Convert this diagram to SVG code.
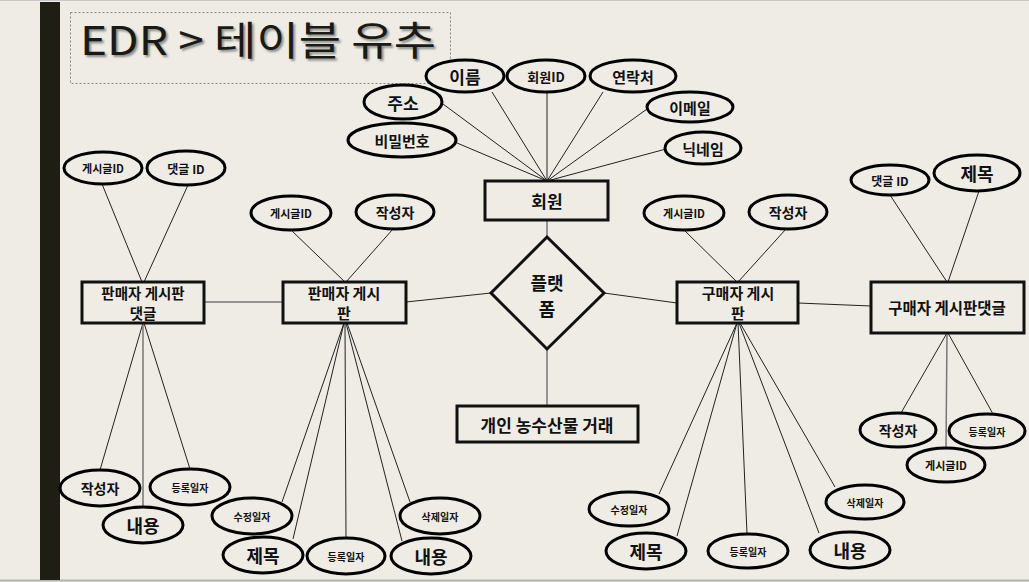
<svg xmlns="http://www.w3.org/2000/svg" width="1029" height="582" viewBox="0 0 1029 582">
<defs>
<style>
.e{fill:#eeece4;stroke:#000;stroke-width:3}
.b{fill:#eeece4;stroke:#111;stroke-width:3}
.c{stroke:#222;stroke-width:1;fill:none}
.g{stroke:#777;stroke-width:1.5;fill:none}
.t{font-family:"Noto Sans CJK KR","Noto Sans",sans-serif;font-weight:bold;text-anchor:middle;dominant-baseline:central;fill:#111}
</style>
<filter id="sh" x="-5%" y="-20%" width="110%" height="140%"><feGaussianBlur stdDeviation="1.2"/></filter>
</defs>
<rect x="0" y="0" width="1029" height="582" fill="#eeece4"/>
<line x1="0" y1="0.5" x2="1029" y2="0.5" stroke="#c8c8c8"/>
<line x1="0" y1="580.5" x2="1029" y2="580.5" stroke="#b4b4b4" stroke-width="2"/>
<rect x="40" y="2" width="20" height="578" fill="#1e1e14"/>
<g id="title">
<rect x="70.5" y="12.5" width="380" height="71" fill="none" stroke="#888" stroke-width="1" stroke-dasharray="2,2"/>
<text x="82" y="57" font-family="Noto Sans CJK KR,sans-serif" font-size="40" fill="#888" filter="url(#sh)" textLength="356" lengthAdjust="spacingAndGlyphs">EDR &gt; 테이블 유추</text>
<text x="80" y="55" font-family="Noto Sans CJK KR,sans-serif" font-size="40" fill="#1a1a14" textLength="356" lengthAdjust="spacingAndGlyphs">EDR &gt; 테이블 유추</text>
</g>
<g id="connectors">
<line class="c" x1="443" y1="104" x2="547" y2="181"/>
<line class="c" x1="457" y1="143" x2="547" y2="181"/>
<line class="c" x1="492" y1="92" x2="547" y2="181"/>
<line class="c" x1="547" y1="92" x2="547" y2="181"/>
<line class="c" x1="603" y1="92" x2="547" y2="181"/>
<line class="c" x1="647" y1="109" x2="547" y2="181"/>
<line class="c" x1="666" y1="149" x2="547" y2="181"/>
<line class="g" x1="547" y1="220" x2="547" y2="237"/>
<line class="g" x1="547" y1="349" x2="547" y2="406"/>
<line class="c" x1="102" y1="184" x2="142" y2="282"/>
<line class="c" x1="188" y1="185" x2="144" y2="282"/>
<line class="c" x1="143" y1="323" x2="100" y2="470"/>
<line class="g" x1="143" y1="323" x2="143" y2="507"/>
<line class="c" x1="144" y1="323" x2="190" y2="469"/>
<line class="c" x1="291" y1="230" x2="345" y2="282"/>
<line class="c" x1="393" y1="229" x2="346" y2="282"/>
<line class="c" x1="344" y1="323" x2="282" y2="502"/>
<line class="c" x1="344" y1="323" x2="293" y2="539"/>
<line class="c" x1="345" y1="323" x2="346" y2="538"/>
<line class="c" x1="346" y1="323" x2="402" y2="541"/>
<line class="c" x1="347" y1="323" x2="410" y2="502"/>
<line class="g" x1="204" y1="302" x2="283" y2="302"/>
<line class="c" x1="406" y1="302" x2="491" y2="293"/>
<line class="c" x1="604" y1="293" x2="677" y2="303"/>
<line class="c" x1="798" y1="303" x2="871" y2="306"/>
<line class="c" x1="684" y1="230" x2="737" y2="282"/>
<line class="c" x1="786" y1="229" x2="738" y2="282"/>
<line class="c" x1="890" y1="195" x2="947" y2="282"/>
<line class="c" x1="979" y1="191" x2="948" y2="282"/>
<line class="c" x1="737" y1="323" x2="659" y2="494"/>
<line class="c" x1="737" y1="323" x2="677" y2="536"/>
<line class="c" x1="738" y1="323" x2="747" y2="534"/>
<line class="c" x1="739" y1="323" x2="819" y2="533"/>
<line class="c" x1="740" y1="323" x2="835" y2="487"/>
<line class="c" x1="947" y1="333" x2="901" y2="413"/>
<line class="g" x1="947" y1="333" x2="946" y2="448"/>
<line class="c" x1="948" y1="333" x2="993" y2="414"/>
</g>
<g id="member"><rect class="b" x="485" y="181" width="123" height="39"/><text class="t" x="547" y="200" font-size="17">회원</text></g>
<g id="platform"><polygon class="b" points="547,237 604,293 547,349 491,293"/><text class="t" x="547" y="282" font-size="18">플랫</text><text class="t" x="547" y="308" font-size="18">폼</text></g>
<g id="trade"><rect class="b" x="457" y="406" width="181" height="36"/><text class="t" x="547" y="424" font-size="17">개인 농수산물 거래</text></g>
<g id="a-name"><ellipse class="e" cx="465" cy="76" rx="39" ry="16"/><text class="t" x="465" y="76" font-size="17">이름</text></g>
<g id="a-memberid"><ellipse class="e" cx="546" cy="76" rx="39" ry="16"/><text class="t" x="546" y="76" font-size="13">회원ID</text></g>
<g id="a-contact"><ellipse class="e" cx="633" cy="76" rx="43" ry="16"/><text class="t" x="633" y="76" font-size="15">연락처</text></g>
<g id="a-address"><ellipse class="e" cx="403" cy="102" rx="39" ry="17"/><text class="t" x="403" y="102" font-size="17">주소</text></g>
<g id="a-password"><ellipse class="e" cx="402" cy="140" rx="54" ry="17"/><text class="t" x="402" y="140" font-size="15">비밀번호</text></g>
<g id="a-email"><ellipse class="e" cx="690" cy="107" rx="43" ry="15"/><text class="t" x="690" y="107" font-size="15">이메일</text></g>
<g id="a-nick"><ellipse class="e" cx="703" cy="148" rx="38" ry="16"/><text class="t" x="703" y="148" font-size="15">닉네임</text></g>
<g id="seller-comment"><rect class="b" x="82" y="282" width="122" height="41"/><text class="t" x="143" y="292" font-size="14.5">판매자 게시판</text><text class="t" x="143" y="312" font-size="14.5">댓글</text></g>
<g id="sc-postid"><ellipse class="e" cx="103" cy="168" rx="39" ry="16"/><text class="t" x="103" y="168" font-size="11">게시글ID</text></g>
<g id="sc-commentid"><ellipse class="e" cx="186" cy="168" rx="39" ry="17"/><text class="t" x="186" y="168" font-size="12">댓글 ID</text></g>
<g id="sc-writer"><ellipse class="e" cx="100" cy="488" rx="40" ry="18"/><text class="t" x="100" y="488" font-size="14">작성자</text></g>
<g id="sc-content"><ellipse class="e" cx="143" cy="525" rx="40" ry="18"/><text class="t" x="143" y="525" font-size="18">내용</text></g>
<g id="sc-regdate"><ellipse class="e" cx="190" cy="487" rx="40" ry="18"/><text class="t" x="190" y="487" font-size="10">등록일자</text></g>
<g id="seller-board"><rect class="b" x="283" y="282" width="123" height="41"/><text class="t" x="344" y="292" font-size="15">판매자 게시</text><text class="t" x="344" y="312" font-size="15">판</text></g>
<g id="sb-postid"><ellipse class="e" cx="291" cy="213" rx="40" ry="17"/><text class="t" x="291" y="213" font-size="11">게시글ID</text></g>
<g id="sb-writer"><ellipse class="e" cx="395" cy="212" rx="39" ry="17"/><text class="t" x="395" y="212" font-size="14">작성자</text></g>
<g id="sb-moddate"><ellipse class="e" cx="252" cy="516" rx="40" ry="18"/><text class="t" x="252" y="516" font-size="10">수정일자</text></g>
<g id="sb-title"><ellipse class="e" cx="263" cy="555" rx="40" ry="18"/><text class="t" x="263" y="555" font-size="18">제목</text></g>
<g id="sb-regdate"><ellipse class="e" cx="346" cy="556" rx="39" ry="18"/><text class="t" x="346" y="556" font-size="10">등록일자</text></g>
<g id="sb-content"><ellipse class="e" cx="431" cy="556" rx="40" ry="18"/><text class="t" x="431" y="556" font-size="18">내용</text></g>
<g id="sb-deldate"><ellipse class="e" cx="440" cy="516" rx="40" ry="18"/><text class="t" x="440" y="516" font-size="10">삭제일자</text></g>
<g id="buyer-board"><rect class="b" x="677" y="282" width="121" height="41"/><text class="t" x="738" y="292" font-size="15">구매자 게시</text><text class="t" x="738" y="312" font-size="15">판</text></g>
<g id="bb-postid"><ellipse class="e" cx="684" cy="213" rx="40" ry="17"/><text class="t" x="684" y="213" font-size="11">게시글ID</text></g>
<g id="bb-writer"><ellipse class="e" cx="788" cy="212" rx="39" ry="17"/><text class="t" x="788" y="212" font-size="14">작성자</text></g>
<g id="bb-moddate"><ellipse class="e" cx="629" cy="509" rx="40" ry="17"/><text class="t" x="629" y="509" font-size="10">수정일자</text></g>
<g id="bb-title"><ellipse class="e" cx="646" cy="551" rx="40" ry="18"/><text class="t" x="646" y="551" font-size="18">제목</text></g>
<g id="bb-regdate"><ellipse class="e" cx="748" cy="551" rx="40" ry="17"/><text class="t" x="748" y="551" font-size="10">등록일자</text></g>
<g id="bb-content"><ellipse class="e" cx="850" cy="550" rx="40" ry="18"/><text class="t" x="850" y="550" font-size="18">내용</text></g>
<g id="bb-deldate"><ellipse class="e" cx="865" cy="502" rx="39" ry="17"/><text class="t" x="865" y="502" font-size="10">삭제일자</text></g>
<g id="buyer-comment"><rect class="b" x="871" y="282" width="153" height="51"/><text class="t" x="947" y="307" font-size="15.5">구매자 게시판댓글</text></g>
<g id="bc-commentid"><ellipse class="e" cx="890" cy="180" rx="39" ry="15"/><text class="t" x="890" y="180" font-size="12">댓글 ID</text></g>
<g id="bc-title"><ellipse class="e" cx="977" cy="173" rx="43" ry="18"/><text class="t" x="977" y="173" font-size="18">제목</text></g>
<g id="bc-writer"><ellipse class="e" cx="898" cy="430" rx="38" ry="17"/><text class="t" x="898" y="430" font-size="14">작성자</text></g>
<g id="bc-postid"><ellipse class="e" cx="946" cy="465" rx="39" ry="17"/><text class="t" x="946" y="465" font-size="11">게시글ID</text></g>
<g id="bc-regdate"><ellipse class="e" cx="987" cy="431" rx="38" ry="17"/><text class="t" x="987" y="431" font-size="10">등록일자</text></g>
</svg>
